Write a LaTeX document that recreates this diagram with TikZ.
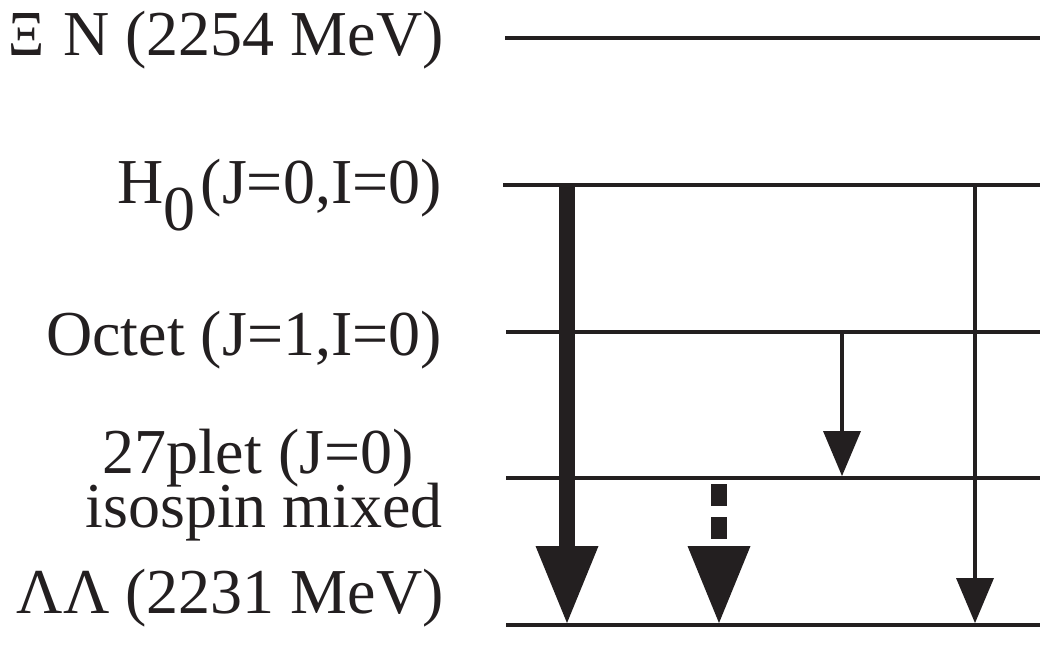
\documentclass[tikz,border=0pt]{standalone}
\usepackage{fontspec}
\setmainfont{Liberation Serif}
\usetikzlibrary{arrows.meta}
\definecolor{ink}{HTML}{231F20}
\begin{document}
\begin{tikzpicture}[x=1pt,y=-1pt,
  level/.style={draw=ink,line width=4.5pt},
  lab/.style={anchor=base east,inner sep=0pt,text=ink,font=\fontsize{64}{60}\selectfont},
  bigarrow/.style={draw=ink,line width=15.5pt,-{Triangle[width=63pt,length=77pt,line width=0pt]}},
  smallarrow/.style={draw=ink,line width=4.2pt,-{Triangle[width=38pt,length=45pt,line width=0pt]}},
  dasharrow/.style={draw=ink,line width=15.5pt,dash pattern=on 22pt off 11pt,-{Triangle[width=63pt,length=77pt,line width=0pt]}}
]
\useasboundingbox (0,0) rectangle (1040,646);
% levels
\coordinate (xiL) at (505,38);   \coordinate (xiR) at (1040,38);
\coordinate (hL) at (503,185);   \coordinate (hR) at (1040,185);
\coordinate (oL) at (506,332);   \coordinate (oR) at (1040,332);
\coordinate (tL) at (506,478);   \coordinate (tR) at (1040,478);
\coordinate (lL) at (506,625);   \coordinate (lR) at (1040,625);
\draw[level] (xiL) -- (xiR);
\draw[level] (hL) -- (hR);
\draw[level] (oL) -- (oR);
\draw[level] (tL) -- (tR);
\draw[level] (lL) -- (lR);
% labels
\node[lab] (xiN) at (444,55) {\resizebox{36pt}{42pt}{Ξ}\kern19pt N (2254 MeV)};
\node[lab] (h0) at (442,203) {H\raisebox{-27pt}{0}\kern5pt(J=0,I=0)};
\node[lab] (oct) at (442,355) {Octet (J=1,I=0)};
\node[lab,anchor=base] (tw) at (258,473) {27plet (J=0)};
\node[lab] (iso) at (443,527) {isospin mixed};
\node[lab] (ll) at (444,613) {ΛΛ (2231 MeV)};
% arrow coordinates
\coordinate (a1s) at (567,183); \coordinate (a1e) at (567,623);
\coordinate (a2s) at (719,484); \coordinate (a2e) at (719,623);
\coordinate (a3s) at (842,334); \coordinate (a3e) at (842,476);
\coordinate (a4s) at (975,187); \coordinate (a4e) at (975,623);
\draw[bigarrow] (a1s) -- (a1e);
\draw[dasharrow] (a2s) -- (a2e);
\draw[smallarrow] (a3s) -- (a3e);
\draw[smallarrow] (a4s) -- (a4e);
\end{tikzpicture}
\end{document}
